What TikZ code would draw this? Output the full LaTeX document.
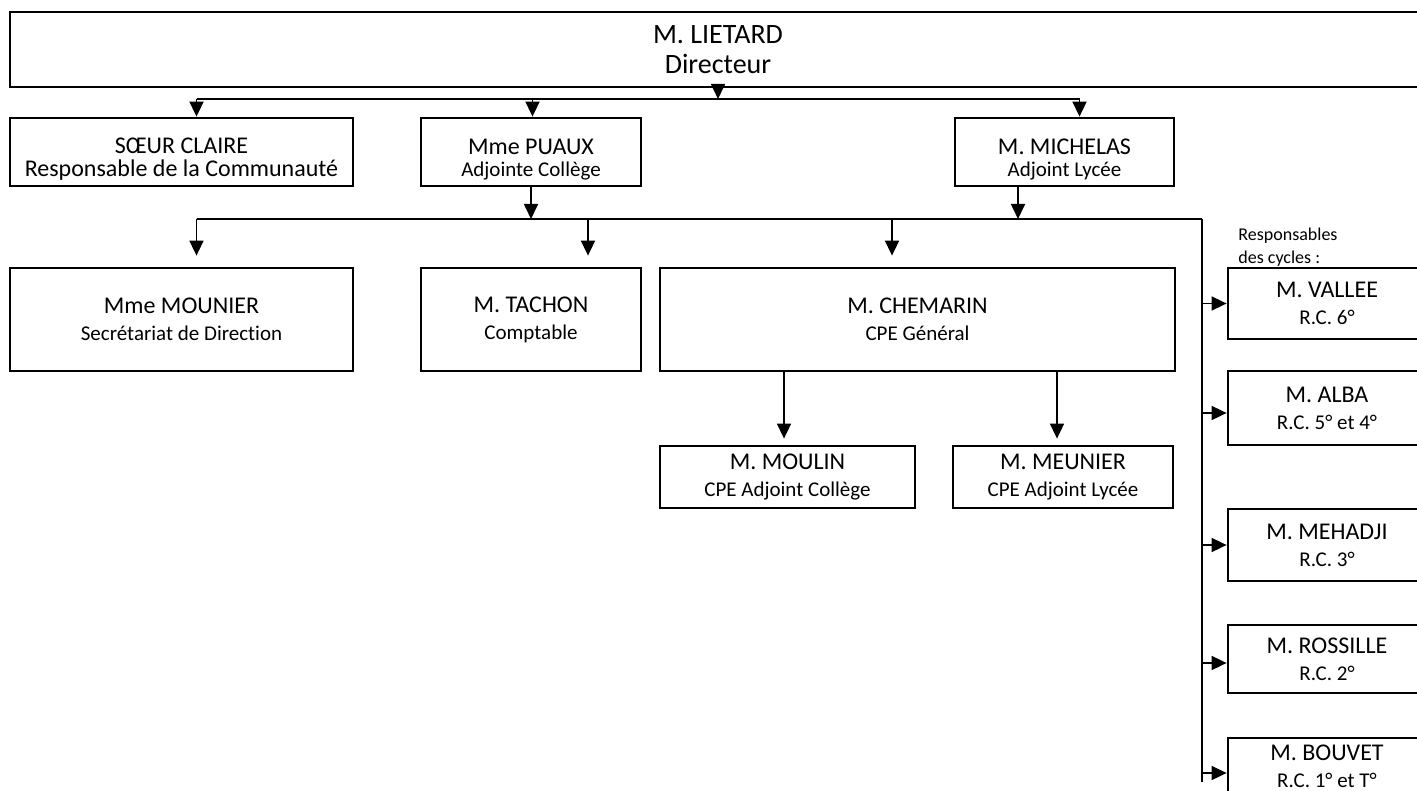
\documentclass[tikz,border=0pt]{standalone}
\usepackage{fontspec}
\setmainfont{Carlito}[Ligatures=NoCommon]
\usetikzlibrary{arrows.meta}

\tikzset{
  poste/.style={draw, line width=1.4pt, align=center, inner sep=0pt,
    font=\fontsize{12}{13.5}\selectfont},
  fil/.style={line width=0.85pt},
  fleche/.style={fil, -{Triangle[length=7.5pt,width=7pt]}},
}
\newcommand{\fonction}[1]{{\fontsize{10.5}{13.5}\selectfont #1}}
\newcommand{\haut}{\rule{0pt}{15pt}}

\begin{document}
\begin{tikzpicture}[x=0.5pt,y=-0.5pt]
    \useasboundingbox (0,0) rectangle (1417,791);

    \node [poste, line width=1.2pt, minimum width=708pt, minimum height=37.5pt,
    font=\fontsize{14}{15}\selectfont] (directeur) at (718,49.5)
    {M. LIETARD\\Directeur};

    % adjoints
    \node [poste, minimum width=171.5pt, minimum height=34pt,
    font=\fontsize{12}{11.5}\selectfont] (soeur) at (181.5,152)
    {\haut SŒUR CLAIRE\\Responsable de la Communauté};

    \node [poste, minimum width=110pt, minimum height=34pt,
    font=\fontsize{12}{11}\selectfont] (puaux) at (531,152)
    {\haut Mme PUAUX\\\fonction{Adjointe Collège}};

    \node [poste, minimum width=109.5pt, minimum height=34pt,
    font=\fontsize{12}{11}\selectfont] (michelas) at (1064.5,152)
    {\haut M. MICHELAS\\\fonction{Adjoint Lycée}};

    % services
    \node [poste, minimum width=171.5pt, minimum height=51.5pt] (mounier)
    at (181.5,319.5) {Mme MOUNIER\\\fonction{Secrétariat de Direction}};

    \node [poste, minimum width=110pt, minimum height=51.5pt] (tachon)
    at (531,319.5) {M. TACHON\\\fonction{Comptable}};

    \node [poste, minimum width=257.5pt, minimum height=51.5pt] (chemarin)
    at (917.5,319.5) {M. CHEMARIN\\\fonction{CPE Général}};

    \node [poste, minimum width=127.5pt, minimum height=31pt] (moulin)
    at (787.5,477) {M. MOULIN\\\fonction{CPE Adjoint Collège}};

    \node [poste, minimum width=110pt, minimum height=31pt] (meunier)
    at (1063,477) {M. MEUNIER\\\fonction{CPE Adjoint Lycée}};

    % responsables des cycles
    \node [align=left, anchor=north west, inner sep=0pt,
    font=\fontsize{9}{11.5}\selectfont] (cycles) at (1238,228)
    {Responsables\\des cycles :};

    \node [poste, minimum width=99pt, minimum height=35.5pt] (vallee)
    at (1327,303.5) {M. VALLEE\\\fonction{R.C. 6°}};
    \node [poste, minimum width=99pt, minimum height=37pt] (alba)
    at (1327,408) {M. ALBA\\\fonction{R.C. 5° et 4°}};
    \node [poste, minimum width=99pt, minimum height=36pt] (mehadji)
    at (1327,545) {M. MEHADJI\\\fonction{R.C. 3°}};
    \node [poste, minimum width=99pt, minimum height=34pt] (rossille)
    at (1327,659) {M. ROSSILLE\\\fonction{R.C. 2°}};
    \node [poste, minimum width=99pt, minimum height=28pt] (bouvet)
    at (1327,766) {M. BOUVET\\\fonction{R.C. 1° et T°}};

    % premier niveau
    \coordinate (b0) at (196.5,99);
    \coordinate (b1) at (532.5,99);
    \coordinate (b2) at (1079.5,99);
    \draw [fleche] (directeur.south) -- (directeur.south |- b0);
    \draw [fil] (b0) -- (b2);
    \foreach \b/\n in {b0/soeur, b1/puaux, b2/michelas}
      \draw [fleche] (\b) -- (\b |- \n.north);

    % second niveau
    \coordinate (c0) at (196.5,219);
    \coordinate (c1) at (588,219);
    \coordinate (c2) at (892,219);
    \coordinate (c3) at (1202,219);
    \coordinate (c4) at (1018,219);
    \draw [fleche] (puaux.south) -- (puaux.south |- c0);
    \draw [fleche] (c4 |- michelas.south) -- (c4);
    \draw [fil] (c0) -- (c3);
    \foreach \c/\n in {c0/mounier, c1/tachon, c2/chemarin}
      \draw [fleche] (\c) -- ([yshift=5.5pt]\c |- \n.north);

    % CPE adjoints
    \coordinate (d0) at (784,371);
    \coordinate (d1) at (1057,371);
    \draw [fleche] (d0) -- ([yshift=3pt]d0 |- moulin.north);
    \draw [fleche] (d1) -- ([yshift=3pt]d1 |- meunier.north);

    % cycles
    \coordinate (r0) at (1202,782);
    \draw [fil] (c3) -- (r0);
    \foreach \n/\d in {vallee/0pt, alba/-2.5pt, mehadji/0pt, rossille/-2pt, bouvet/-3.5pt}
      \draw [fleche] ([yshift=\d]c3 |- \n.west) -- ([yshift=\d]\n.west);
\end{tikzpicture}
\end{document}
